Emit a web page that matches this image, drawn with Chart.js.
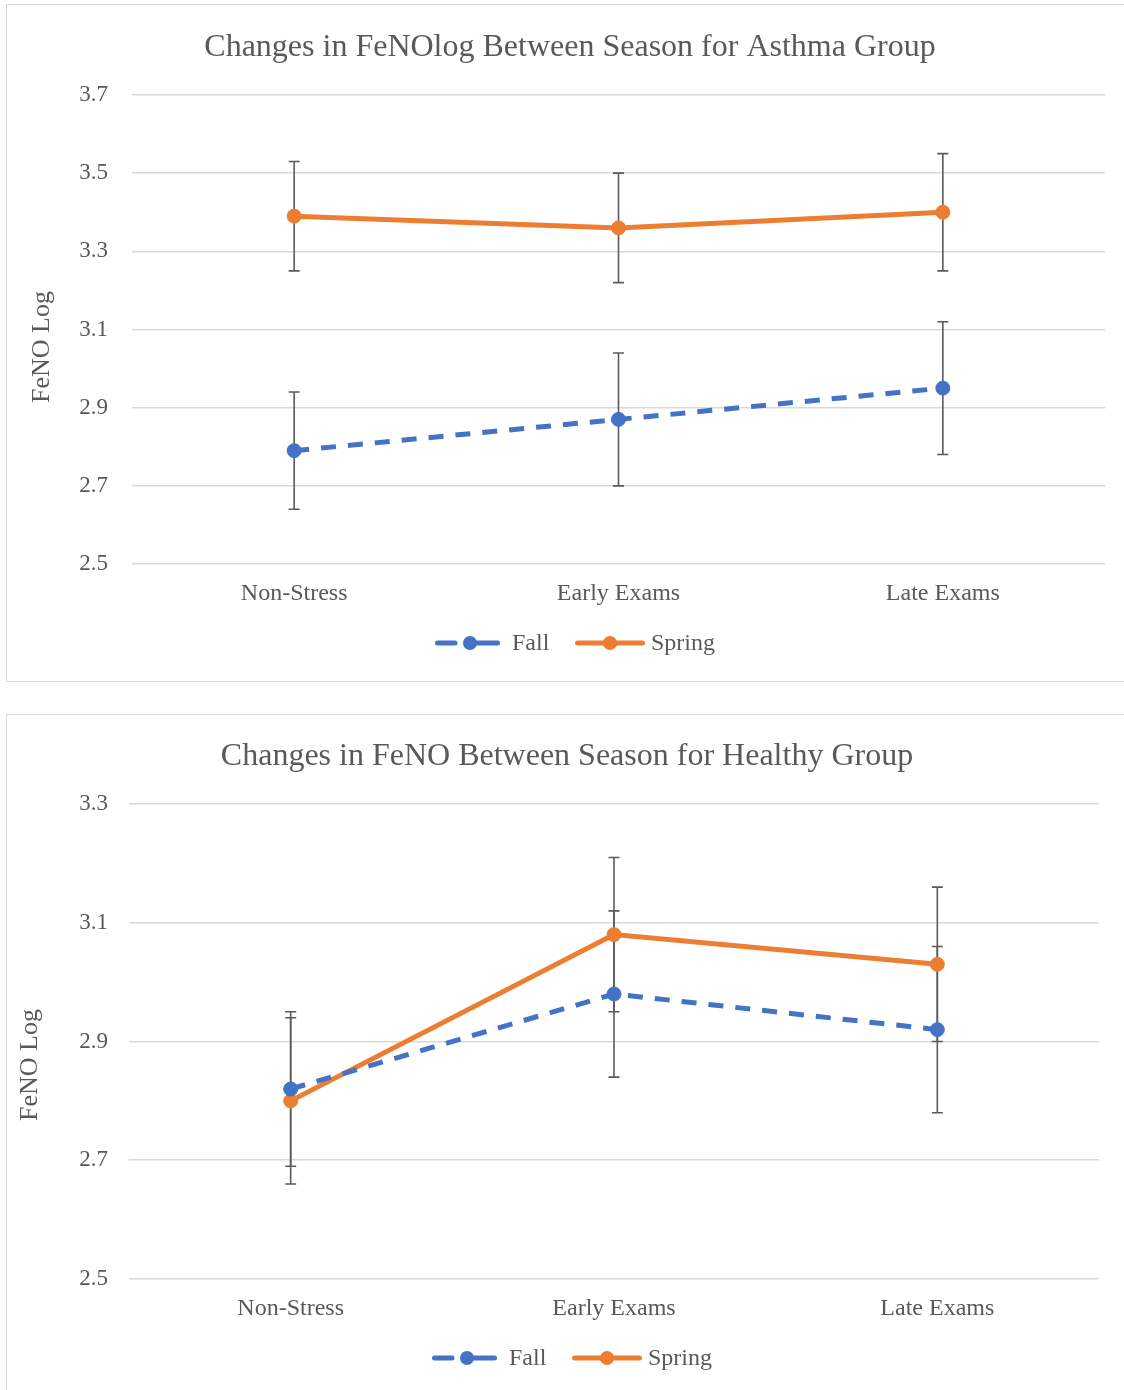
<!DOCTYPE html>
<html><head><meta charset="utf-8">
<script src="https://cdn.jsdelivr.net/npm/chart.js@4.4.1/dist/chart.umd.min.js"></script>
<style>
html,body{margin:0;padding:0;background:#fff;}
body{width:1124px;height:1390px;position:relative;overflow:hidden;}
.panel{position:absolute;border:1.5px solid #d9d9d9;box-sizing:border-box;}
canvas{position:absolute;left:0;}
</style></head><body>
<div class="panel" style="left:6px;top:4px;width:1130px;height:678px"></div>
<div class="panel" style="left:6px;top:714px;width:1130px;height:690px"></div>
<canvas id="c1" width="1124" height="690" style="top:0"></canvas>
<canvas id="c2" width="1124" height="690" style="top:700px"></canvas>
<script>
// ---- data ----
const categories = ['Non-Stress', 'Early Exams', 'Late Exams'];
const seriesNames = ['Fall', 'Spring'];
const asthmaTitle = 'Changes in FeNOlog Between Season for Asthma Group';
const healthyTitle = 'Changes in FeNO Between Season for Healthy Group';
const yAxisTitle = 'FeNO Log';
const asthmaFall = [2.79, 2.87, 2.95];
const asthmaFallErr = [0.15, 0.17, 0.17];
const asthmaSpring = [3.39, 3.36, 3.40];
const asthmaSpringErr = [0.14, 0.14, 0.15];
const healthyFall = [2.82, 2.98, 2.92];
const healthyFallErr = [0.13, 0.14, 0.14];
const healthySpring = [2.80, 3.08, 3.03];
const healthySpringErr = [0.14, 0.13, 0.13];
const asthmaTicks = [2.5, 2.7, 2.9, 3.1, 3.3, 3.5, 3.7];
const healthyTicks = [2.5, 2.7, 2.9, 3.1, 3.3];

// ---- style ----
const FONT = "'Liberation Serif','Times New Roman',serif";
const TXT = '#595959';
const BLUE = '#4472C4';
const ORANGE = '#ED7D31';
const GRID = '#d9d9d9';
const ERR = '#5a5a5a';

function makeChart(id, cfg) {
  const errPlugin = {
    id: 'errbars',
    beforeDatasetsDraw(chart) {
      const ctx = chart.ctx, xs = chart.scales.x, ys = chart.scales.y;
      ctx.save();
      ctx.strokeStyle = ERR; ctx.lineWidth = 1.6;
      chart.data.datasets.forEach(ds => {
        ds.data.forEach((v, i) => {
          const e = ds.errors[i];
          const x = xs.getPixelForValue(i);
          const y1 = ys.getPixelForValue(v + e), y2 = ys.getPixelForValue(v - e);
          ctx.beginPath();
          ctx.moveTo(x, y1); ctx.lineTo(x, y2);
          ctx.moveTo(x - 5.5, y1); ctx.lineTo(x + 5.5, y1);
          ctx.moveTo(x - 5.5, y2); ctx.lineTo(x + 5.5, y2);
          ctx.stroke();
        });
      });
      ctx.restore();
    },
    afterDraw(chart) {
      const ctx = chart.ctx;
      ctx.save();
      // title
      ctx.fillStyle = TXT;
      ctx.font = '32px ' + FONT;
      ctx.textAlign = 'center'; ctx.textBaseline = 'middle';
      ctx.fillText(cfg.title, cfg.titleX, cfg.titleY);
      // y axis title
      ctx.save();
      ctx.translate(cfg.yTitleX, cfg.yTitleY);
      ctx.rotate(-Math.PI / 2);
      ctx.font = '26px ' + FONT;
      ctx.fillText(yAxisTitle, 0, 0);
      ctx.restore();
      // legend
      const lx = cfg.legendX, ly = cfg.legendY;
      ctx.lineCap = 'round';
      ctx.lineWidth = 5;
      ctx.strokeStyle = BLUE;
      ctx.beginPath();
      ctx.moveTo(lx + 2.5, ly); ctx.lineTo(lx + 20, ly);
      ctx.moveTo(lx + 32, ly); ctx.lineTo(lx + 62.5, ly);
      ctx.stroke();
      ctx.fillStyle = BLUE;
      ctx.beginPath(); ctx.arc(lx + 35, ly, 7, 0, Math.PI * 2); ctx.fill();
      ctx.strokeStyle = ORANGE;
      ctx.beginPath();
      ctx.moveTo(lx + 142.5, ly); ctx.lineTo(lx + 207.5, ly);
      ctx.stroke();
      ctx.fillStyle = ORANGE;
      ctx.beginPath(); ctx.arc(lx + 175, ly, 7, 0, Math.PI * 2); ctx.fill();
      ctx.fillStyle = TXT;
      ctx.font = '24px ' + FONT;
      ctx.textAlign = 'left'; ctx.textBaseline = 'middle';
      ctx.fillText(seriesNames[0], lx + 77, ly + 1);
      ctx.fillText(seriesNames[1], lx + 216, ly + 1);
      ctx.restore();
    }
  };

  return new Chart(document.getElementById(id), {
    type: 'line',
    data: {
      labels: categories,
      datasets: [
        { label: seriesNames[0], data: cfg.fall, errors: cfg.fallErr,
          borderColor: BLUE, backgroundColor: BLUE, borderWidth: 5,
          borderDash: [15, 12], borderCapStyle: 'butt',
          pointRadius: 7, pointBorderWidth: 1, pointBackgroundColor: BLUE, pointBorderColor: BLUE,
          tension: 0, fill: false },
        { label: seriesNames[1], data: cfg.spring, errors: cfg.springErr,
          borderColor: ORANGE, backgroundColor: ORANGE, borderWidth: 5,
          borderCapStyle: 'round',
          pointRadius: 7, pointBorderWidth: 1, pointBackgroundColor: ORANGE, pointBorderColor: ORANGE,
          tension: 0, fill: false }
      ]
    },
    options: {
      responsive: false, animation: false, devicePixelRatio: 1,
      layout: { padding: { left: 0, right: 1124 - cfg.right, top: cfg.top, bottom: 0 } },
      plugins: { legend: { display: false }, title: { display: false }, tooltip: { enabled: false } },
      scales: {
        x: {
          type: 'category', offset: true,
          grid: { display: false }, border: { display: false },
          ticks: { color: TXT, font: { family: FONT, size: 24 }, padding: 7, maxRotation: 0 },
          afterFit(s) { s.height = 690 - cfg.bottom; }
        },
        y: {
          min: cfg.ticks[0], max: cfg.ticks[cfg.ticks.length - 1],
          afterBuildTicks(s) { s.ticks = cfg.ticks.map(v => ({ value: v })); },
          grid: { color: GRID, lineWidth: 1.5, drawTicks: false },
          border: { display: false },
          ticks: { color: TXT, font: { family: FONT, size: 23 }, padding: cfg.tickPad,
                   callback: v => Number(v).toFixed(1) },
          afterFit(s) { s.width = cfg.left; }
        }
      }
    },
    plugins: [errPlugin]
  });
}

makeChart('c1', {
  title: asthmaTitle, fall: asthmaFall, fallErr: asthmaFallErr,
  spring: asthmaSpring, springErr: asthmaSpringErr, ticks: asthmaTicks,
  left: 132, right: 1105, top: 95, bottom: 564, tickPad: 24,
  titleX: 570, titleY: 48, yTitleX: 42, yTitleY: 347, legendX: 435, legendY: 643
});
makeChart('c2', {
  title: healthyTitle, fall: healthyFall, fallErr: healthyFallErr,
  spring: healthySpring, springErr: healthySpringErr, ticks: healthyTicks,
  left: 129, right: 1099, top: 104, bottom: 579, tickPad: 21,
  titleX: 567, titleY: 57, yTitleX: 30, yTitleY: 365, legendX: 432, legendY: 658
});
</script>
</body></html>
